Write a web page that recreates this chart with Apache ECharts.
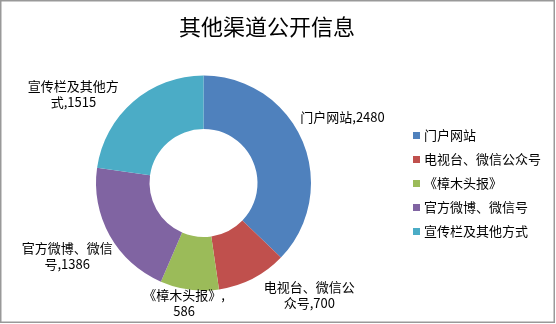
<!DOCTYPE html>
<html><head><meta charset="utf-8">
<script src="https://cdn.jsdelivr.net/npm/echarts@6/dist/echarts.min.js"></script>
<style>html,body{margin:0;padding:0;background:#fff}#c{width:556px;height:324px}</style>
</head><body><div id="c"></div>
<script>
var categories = ['门户网站', '电视台、微信公众号', '《樟木头报》', '官方微博、微信号', '宣传栏及其他方式'];
var values = [2480, 700, 586, 1386, 1515];
var labelTexts = ['门户网站,2480', '电视台、微信公\n众号,700', '《樟木头报》,\n586', '官方微博、微信\n号,1386', '宣传栏及其他方\n式,1515'];
var colors = ['#4f81bd', '#c0504d', '#9bbb59', '#8064a2', '#4bacc6'];

// label nudges (layout only, relative to ECharts' own outside placement)
var labelNudge = [[-14.5, -21], [2.5, 9.5], [41.5, 6], [15, 17], [-4, -2]];

var chart = echarts.init(document.getElementById('c'), null, {renderer: 'canvas'});
var font = '"Noto Sans CJK SC", "DejaVu Sans", sans-serif';
chart.setOption({
  animation: false,
  color: colors,
  title: {
    text: '其他渠道公开信息', left: 262, top: 11, textAlign: 'center',
    textStyle: {fontSize: 22, fontWeight: 'normal', color: '#000', fontFamily: font}
  },
  legend: {
    orient: 'vertical', left: 408, top: 124, itemGap: 11,
    itemWidth: 7, itemHeight: 7, icon: 'rect',
    textStyle: {fontSize: 13, color: '#000', fontFamily: font, padding: [0, 0, 0, -1]},
    data: categories
  },
  graphic: [{
    type: 'rect', shape: {x: 0.75, y: 0.75, width: 553.5, height: 321.5},
    style: {fill: 'none', stroke: '#999', lineWidth: 1.5}, silent: true
  }],
  series: [{
    type: 'pie', center: [203.5, 183], radius: [54, 107.5],
    startAngle: 90, clockwise: true,
    label: {
      show: true, position: 'outside', color: '#000', fontSize: 13, lineHeight: 16,
      fontFamily: font, overflow: 'none',
      formatter: function (p) { return labelTexts[p.dataIndex]; }
    },
    labelLine: {show: false, length: 8, length2: 0},
    labelLayout: function (p) {
      var r = p.labelRect, n = labelNudge[p.dataIndex];
      return {
        x: r.x + r.width / 2 + n[0], y: r.y + r.height / 2 + n[1],
        align: 'center', verticalAlign: 'middle'
      };
    },
    data: categories.map(function (c, i) { return {name: c, value: values[i]}; })
  }]
});
</script></body></html>
